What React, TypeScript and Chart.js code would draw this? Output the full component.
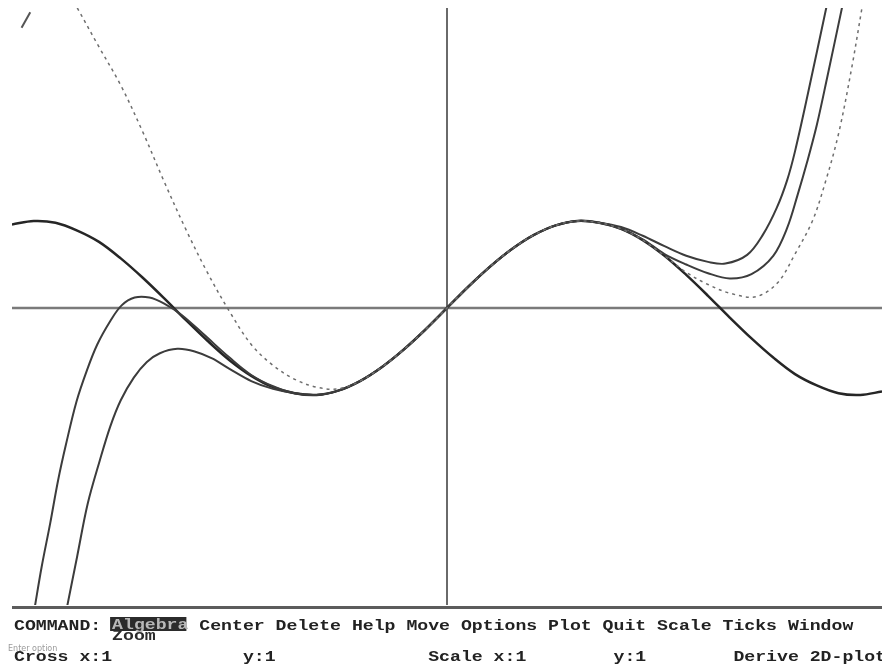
import React, { useEffect, useRef } from "react";
import { Chart, registerables } from "chart.js";

Chart.register(...registerables);

const X_MIN = -5;
const X_MAX = 5;
const Y_MIN = -3.414;
const Y_MAX = 3.448;

// sin(x)
const SINE_X = [-5, -4.75, -4.5, -4.25, -4, -3.75, -3.5, -3.25, -3, -2.75, -2.5, -2.25, -2, -1.75, -1.5, -1.25, -1, -0.75, -0.5, -0.25, 0, 0.25, 0.5, 0.75, 1, 1.25, 1.5, 1.75, 2, 2.25, 2.5, 2.75, 3, 3.25, 3.5, 3.75, 4, 4.25, 4.5, 4.75, 5];
const SINE_Y = [0.96, 1.0, 0.98, 0.89, 0.76, 0.57, 0.35, 0.11, -0.14, -0.38, -0.6, -0.78, -0.91, -0.98, -1.0, -0.95, -0.84, -0.68, -0.48, -0.25, 0, 0.25, 0.48, 0.68, 0.84, 0.95, 1.0, 0.98, 0.91, 0.78, 0.6, 0.38, 0.14, -0.11, -0.35, -0.57, -0.76, -0.89, -0.98, -1.0, -0.96];

// approximation curve A (inner on the right, lower on the left)
const CURVE_A_X = [-4.37, -4.25, -4.13, -3.99, -3.87, -3.75, -3.6, -3.45, -3.3, -3.1, -2.9, -2.7, -2.5, -2.25, -2, -1.75, -1.5, -1.25, -1, -0.75, -0.5, -0.25, 0, 0.25, 0.5, 0.75, 1, 1.25, 1.5, 1.75, 2, 2.25, 2.5, 2.75, 3, 3.2, 3.45, 3.63, 3.79, 3.91, 4.0, 4.15, 4.37];
const CURVE_A_Y = [-3.45, -2.85, -2.25, -1.75, -1.36, -1.06, -0.8, -0.62, -0.52, -0.47, -0.5, -0.58, -0.7, -0.84, -0.93, -0.98, -1.0, -0.95, -0.84, -0.68, -0.48, -0.25, 0, 0.25, 0.48, 0.68, 0.84, 0.95, 1.0, 0.98, 0.93, 0.83, 0.71, 0.6, 0.53, 0.51, 0.61, 0.84, 1.15, 1.47, 1.8, 2.47, 3.5];

// approximation curve B (outer on the right, upper on the left)
const CURVE_B_X = [-4.74, -4.66, -4.56, -4.47, -4.38, -4.26, -4.14, -4.02, -3.87, -3.74, -3.59, -3.42, -3.25, -3.05, -2.8, -2.5, -2.25, -2, -1.75, -1.5, -1.25, -1, -0.75, -0.5, -0.25, 0, 0.25, 0.5, 0.75, 1, 1.25, 1.5, 1.75, 2, 2.25, 2.5, 2.75, 3, 3.25, 3.5, 3.75, 3.91, 4.03, 4.14, 4.25, 4.37, 4.54];
const CURVE_B_Y = [-3.45, -2.98, -2.47, -1.98, -1.57, -1.08, -0.72, -0.42, -0.15, 0.03, 0.12, 0.12, 0.05, -0.08, -0.3, -0.57, -0.77, -0.9, -0.98, -1.0, -0.95, -0.84, -0.68, -0.48, -0.25, 0, 0.25, 0.48, 0.68, 0.84, 0.95, 1.0, 0.98, 0.91, 0.79, 0.62, 0.5, 0.4, 0.34, 0.39, 0.6, 0.92, 1.3, 1.68, 2.1, 2.65, 3.45];

// dashed approximation
const CURVE_D_X = [-4.25, -4.0, -3.75, -3.5, -3.25, -3.0, -2.75, -2.5, -2.25, -2.0, -1.75, -1.5, -1.25, -1, -0.75, -0.5, -0.25, 0, 0.25, 0.5, 0.75, 1, 1.25, 1.5, 1.75, 2, 2.25, 2.5, 2.75, 3, 3.25, 3.55, 3.8, 4.0, 4.2, 4.35, 4.5, 4.65, 4.77];
const CURVE_D_Y = [3.45, 3.0, 2.56, 2.03, 1.45, 0.9, 0.4, -0.04, -0.42, -0.66, -0.82, -0.91, -0.93, -0.84, -0.68, -0.48, -0.25, 0, 0.25, 0.48, 0.68, 0.84, 0.95, 1.0, 0.98, 0.91, 0.78, 0.6, 0.41, 0.27, 0.17, 0.13, 0.29, 0.62, 1.0, 1.45, 2.0, 2.75, 3.45];

// short stray stroke at top-left
const STROKE_X = [-4.89, -4.79];
const STROKE_Y = [3.22, 3.4];

// status-bar texts (80-column screen)
const COMMAND_LABEL = "COMMAND:";
const COMMAND_ACTIVE = "Algebra";
const COMMAND_REST = "Center Delete Help Move Options Plot Quit Scale Ticks Window";
const COMMAND_WRAP = "Zoom";
const PROMPT = "Enter option";
const STATUS_TEXTS = ["Cross x:1", "y:1", "Scale x:1", "y:1", "Derive 2D-plot"];
const STATUS_COLS = [0, 21, 38, 55, 66];

const TEXT_X0 = 14;
const CELL_W = 10.9;

function toPoints(xs: number[], ys: number[]) {
  return xs.map((x, i) => ({ x, y: ys[i] }));
}

function drawMono(ctx: CanvasRenderingContext2D, text: string, col: number, baseline: number, color: string) {
  ctx.save();
  ctx.font = "bold 15px 'Liberation Mono', 'DejaVu Sans Mono', monospace";
  const adv = ctx.measureText("M").width || 9;
  ctx.translate(TEXT_X0 + col * CELL_W, baseline);
  ctx.scale(CELL_W / adv, 1);
  ctx.fillStyle = color;
  ctx.textBaseline = "alphabetic";
  ctx.fillText(text, 0, 0);
  ctx.restore();
}

const derivePlugin = {
  id: "derivePlot",
  beforeDatasetsDraw(chart: any) {
    const { ctx, chartArea, scales } = chart;
    const xs = scales.x;
    const ys = scales.y;
    const px0 = xs.getPixelForValue(0);
    const py0 = ys.getPixelForValue(0);
    ctx.save();
    ctx.strokeStyle = "#7a7a7a";
    ctx.lineWidth = 2.5;
    ctx.beginPath();
    ctx.moveTo(chartArea.left, py0);
    ctx.lineTo(chartArea.right, py0);
    ctx.stroke();
    ctx.strokeStyle = "#6a6a6a";
    ctx.lineWidth = 2;
    ctx.beginPath();
    ctx.moveTo(px0, chartArea.top);
    ctx.lineTo(px0, chartArea.bottom);
    ctx.stroke();
    ctx.restore();
  },
  afterDraw(chart: any) {
    const { ctx, chartArea } = chart;
    ctx.save();
    ctx.fillStyle = "#5c5c5c";
    ctx.fillRect(chartArea.left, chartArea.bottom + 1, chartArea.right - chartArea.left, 3);
    drawMono(ctx, COMMAND_WRAP, 9, 640, "#2a2a2a");
    drawMono(ctx, COMMAND_LABEL, 0, 630, "#222");
    ctx.fillStyle = "#2b2b2b";
    ctx.fillRect(TEXT_X0 + 9 * CELL_W - 2, 617, 7 * CELL_W, 14);
    drawMono(ctx, COMMAND_ACTIVE, 9, 629, "#b8b8b8");
    drawMono(ctx, COMMAND_REST, 17, 630, "#222");
    ctx.font = "8px 'DejaVu Sans', sans-serif";
    ctx.fillStyle = "#9a9a9a";
    ctx.fillText(PROMPT, 8, 651);
    STATUS_TEXTS.forEach((t, i) => drawMono(ctx, t, STATUS_COLS[i], 661, "#222"));
    ctx.restore();
  },
};

export default function App() {
  const canvasRef = useRef<HTMLCanvasElement | null>(null);

  useEffect(() => {
    if (!canvasRef.current) return;
    const solid = { showLine: true, pointRadius: 0, fill: false, tension: 0.35 };
    const chart = new Chart(canvasRef.current, {
      type: "scatter",
      data: {
        datasets: [
          { ...solid, label: "approx dashed", data: toPoints(CURVE_D_X, CURVE_D_Y), borderColor: "#6e6e6e", borderWidth: 1.5, borderDash: [3, 4] },
          { ...solid, label: "approx B", data: toPoints(CURVE_B_X, CURVE_B_Y), borderColor: "#3c3c3c", borderWidth: 2 },
          { ...solid, label: "approx A", data: toPoints(CURVE_A_X, CURVE_A_Y), borderColor: "#3c3c3c", borderWidth: 2 },
          { ...solid, label: "sin", data: toPoints(SINE_X, SINE_Y), borderColor: "#262626", borderWidth: 2.5 },
          { ...solid, label: "stroke", data: toPoints(STROKE_X, STROKE_Y), borderColor: "#555", borderWidth: 2, tension: 0 },
        ],
      },
      options: {
        animation: false,
        responsive: false,
        events: [],
        layout: { padding: { left: 12, top: 8, right: 0, bottom: 59 } },
        plugins: { legend: { display: false }, tooltip: { enabled: false } },
        scales: {
          x: { type: "linear", min: X_MIN, max: X_MAX, display: false },
          y: { type: "linear", min: Y_MIN, max: Y_MAX, display: false },
        },
      },
      plugins: [derivePlugin],
    });
    return () => chart.destroy();
  }, []);

  return (
    <div style={{ position: "fixed", left: 0, top: 0, width: 882, height: 664, background: "#fff" }}>
      <canvas ref={canvasRef} width={882} height={664} style={{ display: "block" }} />
    </div>
  );
}
